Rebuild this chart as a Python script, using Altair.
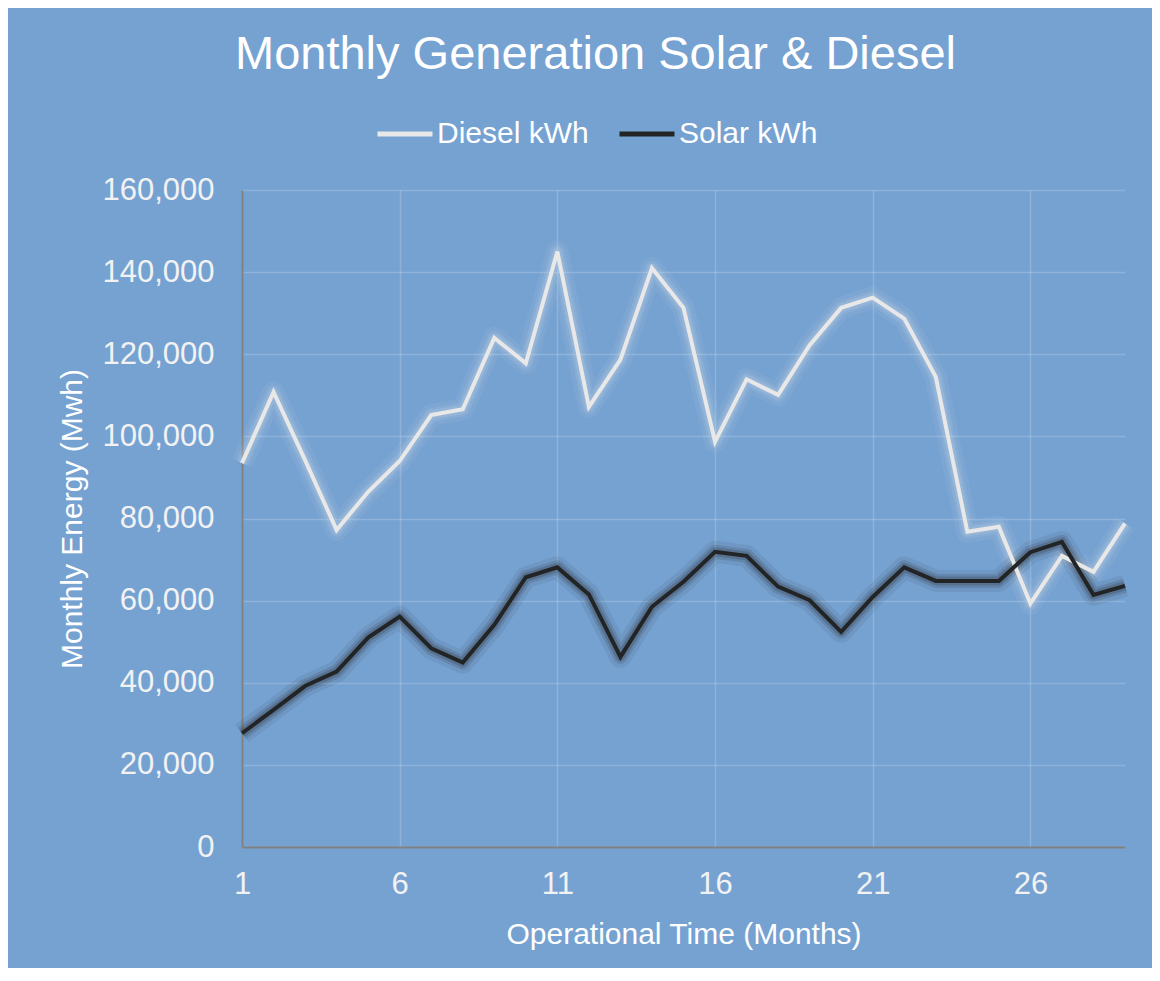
import altair as alt
import pandas as pd

months = list(range(1, 30))
diesel = [93500, 110800, 94200, 77200, 86500, 94000, 105200, 106600, 124000, 117800,
          145000, 107200, 118700, 141000, 131300, 98700, 113900, 110100, 122200, 131300,
          133800, 128700, 114500, 76800, 78000, 59300, 70900, 67000, 78800]
solar = [27700, 33400, 39200, 42700, 51000, 56100, 48400, 44900, 54100, 65700,
         68100, 61500, 46300, 58500, 64600, 71900, 70900, 63400, 60100, 52400,
         60900, 68100, 64800, 64800, 64800, 71800, 74300, 61400, 63600]
series_names = ["Diesel kWh", "Solar kWh"]
series_colors = ["#E8E8E8", "#222426"]
x_ticks = [1, 6, 11, 16, 21, 26]
y_ticks = [0, 20000, 40000, 60000, 80000, 100000, 120000, 140000, 160000]

rows = []
for m, d in zip(months, diesel):
    rows.append({"month": m, "value": d, "series": series_names[0]})
for m, s in zip(months, solar):
    rows.append({"month": m, "value": s, "series": series_names[1]})
df = pd.DataFrame(rows)

FONT = "Liberation Sans"

x_enc = alt.X("month:Q", scale=alt.Scale(domain=[1, 29], nice=False, zero=False),
              axis=alt.Axis(values=x_ticks, title="Operational Time (Months)", format="d",
                            labelPadding=22, titlePadding=20, labelFlush=False))
y_enc = alt.Y("value:Q", scale=alt.Scale(domain=[0, 160000], nice=False),
              axis=alt.Axis(values=y_ticks, format=",d", title="Monthly Energy (Mwh)",
                            labelPadding=28, titlePadding=14))

base = alt.Chart(df)

glows = []
for name, col, k in zip(series_names, series_colors, [1.0, 1.4]):
    for w, op in [(22, 0.06), (14, 0.10), (9, 0.14)]:
        glows.append(
            base.transform_filter(alt.datum.series == name)
            .mark_line(strokeWidth=w, opacity=op * k, strokeJoin="round", color=col)
            .encode(x=x_enc, y=y_enc)
        )

main = base.mark_line(strokeWidth=4).encode(
    x=x_enc, y=y_enc,
    color=alt.Color("series:N", scale=alt.Scale(domain=series_names, range=series_colors),
                    legend=alt.Legend(title=None, orient="none", legendX=133, legendY=-86,
                                      direction="horizontal", symbolType="stroke",
                                      symbolSize=3025, symbolStrokeWidth=5, symbolOpacity=1,
                                      labelFontSize=30, labelColor="white", labelFont=FONT,
                                      labelOffset=2, columnPadding=20)),
)

chart = alt.layer(*glows, main).properties(
    width=883, height=657,
    padding={"left": 234, "top": 182, "right": 27, "bottom": 121},
    autosize="none",
    background="#76A2D2",
    title=alt.TitleParams("Monthly Generation Solar & Diesel", fontSize=47, font=FONT,
                          fontWeight="normal", color="white", anchor="middle", dx=-88,
                          offset=25),
).configure_axis(
    labelFont=FONT, titleFont=FONT, labelFontSize=31, titleFontSize=30,
    labelColor="#F2F2F2", titleColor="white", titleFontWeight="normal",
    gridColor="#FFFFFF", gridOpacity=0.18, gridWidth=1.5,
    domainColor="#808080", domainWidth=2, ticks=False,
).configure_view(strokeWidth=0)

chart.save("out.html", embed_options={"renderer": "svg", "actions": False})
